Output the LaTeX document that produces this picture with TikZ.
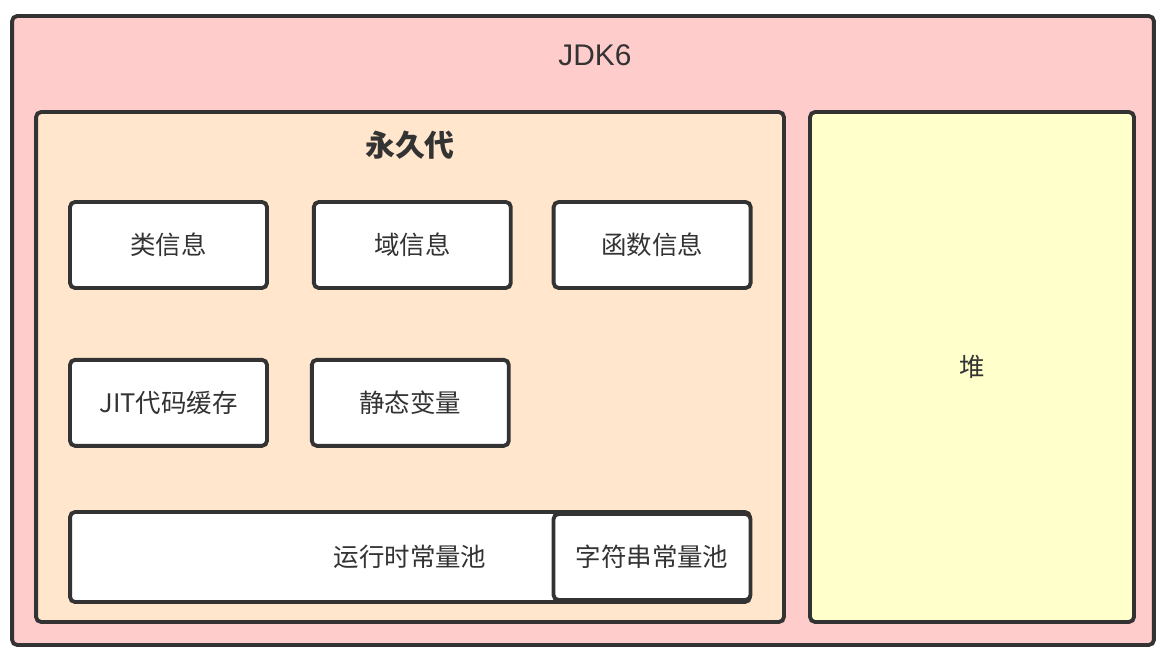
\documentclass[tikz,border=0pt]{standalone}
\usepackage{fontspec}
\setmainfont{Noto Sans CJK SC}
\newfontfamily\latinfont{Liberation Sans}
\usetikzlibrary{positioning}
\definecolor{edge}{HTML}{333333}
\definecolor{jdkpink}{HTML}{FFCCCC}
\definecolor{permpeach}{HTML}{FFE6CC}
\definecolor{heapyellow}{HTML}{FFFFCC}

\begin{document}
\begin{tikzpicture}[
    x=0.02cm, y=-0.02cm,
    every node/.style={text=edge},
    frame/.style={draw=edge, line width=2.2pt, rounded corners=0.1cm},
    info/.style={frame, fill=white, minimum width=3.94cm, minimum height=1.72cm,
                 font=\fontsize{14.5}{17}\selectfont},
    title/.style={font=\fontsize{17}{20}\selectfont},
]
\useasboundingbox (0,0) rectangle (1168,658);

% containers
\node[frame, fill=jdkpink, minimum width=22.84cm, minimum height=12.58cm] (jdk) at (583,330.5) {};
\node[title, font=\fontsize{17}{20}\selectfont\latinfont] (jdklabel) at (595,55) {JDK6};
\node[frame, fill=permpeach, minimum width=14.96cm, minimum height=10.2cm] (perm) at (410,367) {};
\node[title, font=\fontsize{17}{20}\selectfont\bfseries] (permlabel) at (410,145) {永久代};
\node[frame, fill=heapyellow, minimum width=6.48cm, minimum height=10.2cm] (heap) at (972,367) {};
\node[info, draw=none, fill=none] (heaplabel) at (heap) {堆};

% permanent generation contents
\node[info] (cls) at (168.5,245) {类信息};
\node[info, right=0.86cm of cls] (field) {域信息};
\node[info, right=0.78cm of field] (func) {函数信息};
\node[info, below=1.36cm of cls] (jit) {JIT代码缓存};
\node[info, right=0.82cm of jit] (static) {静态变量};

\node[info, minimum width=13.6cm, minimum height=1.8cm] (rtpool) at (410,557) {运行时常量池};
\node[info, minimum height=1.72cm] (strpool) at (652,557) {字符串常量池};
\end{tikzpicture}
\end{document}
